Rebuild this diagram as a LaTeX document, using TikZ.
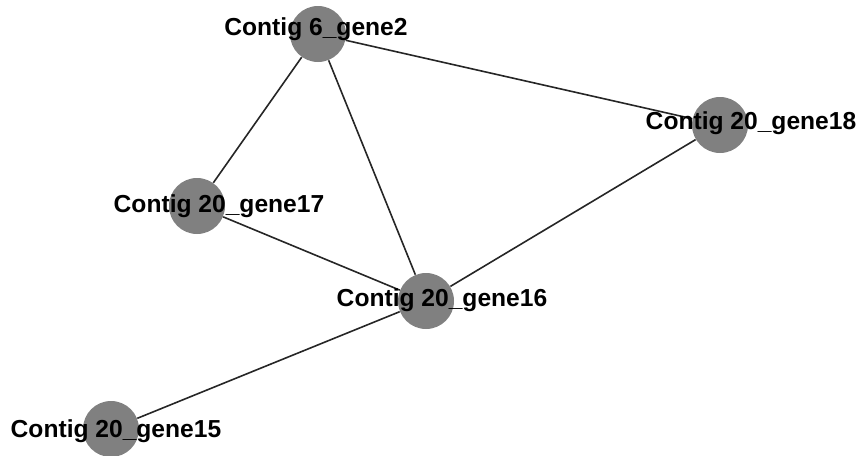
\documentclass[tikz,border=0pt]{standalone}
\usepackage{fontspec}
\setmainfont{Liberation Sans}
\usepackage{xcolor}
\usetikzlibrary{positioning}
\definecolor{nodeGray}{RGB}{128,128,128}

\begin{document}
\begin{tikzpicture}[x=0.5pt,y=-0.5pt,
  gene/.style={circle, fill=nodeGray, minimum size=28pt, inner sep=0pt},
  tag/.style={font=\fontsize{12.3}{14}\selectfont\bfseries, inner sep=0pt},
  link/.style={line width=0.8pt, black!85}]
\useasboundingbox (0,0) rectangle (860,455);

\node [gene] (g2) at (318,34) {};
\node [gene] (g18) at (720,125) {};
\node [gene] (g17) at (197,206) {};
\node [gene] (g16) at (426,301) {};
\node [gene] (g15) at (111,429) {};

\draw [link] (g2) -- (g17);
\draw [link] (g2) -- (g16);
\draw [link] (g2) -- (g18);
\draw [link] (g17) -- (g16);
\draw [link] (g18) -- (g16);
\draw [link] (g16) -- (g15);

\node [tag] (t2) at (316,29) {Contig 6\_gene2};
\node [tag] (t18) at (751,123) {Contig 20\_gene18};
\node [tag] (t17) at (219,206) {Contig 20\_gene17};
\node [tag] (t16) at (442,300) {Contig 20\_gene16};
\node [tag] (t15) at (116,431) {Contig 20\_gene15};
\end{tikzpicture}
\end{document}
